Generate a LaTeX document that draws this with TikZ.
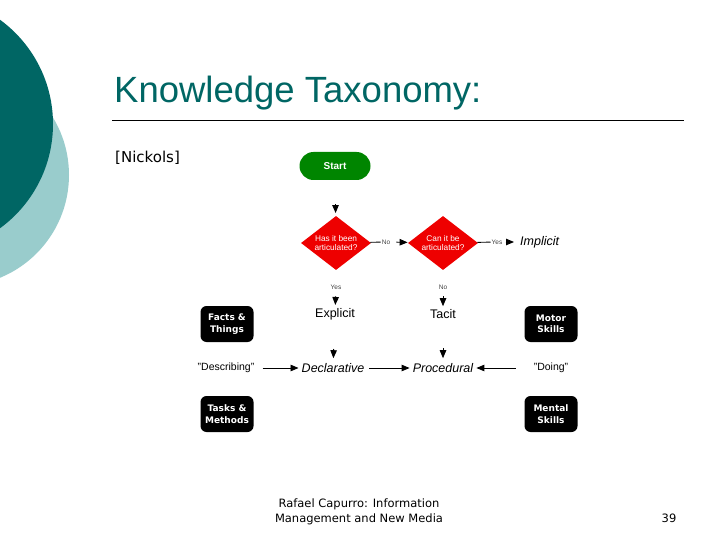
\documentclass[tikz,border=0pt]{standalone}
\usepackage{fontspec}
\setmainfont{Liberation Sans}
\newfontfamily\verd{DejaVu Sans}
\usetikzlibrary{shapes.geometric,arrows.meta}
\definecolor{teal1}{RGB}{0,102,100}
\definecolor{teal2}{RGB}{153,204,204}
\definecolor{startgreen}{RGB}{0,133,0}
\definecolor{dred}{RGB}{238,0,0}
\tikzset{
  arr/.style={-{Triangle[length=8pt,width=6.5pt]},line width=0.9pt},
  plain/.style={line width=0.9pt},
  blackbox/.style={fill=black,rounded corners=6pt,minimum width=53pt,minimum height=36pt,inner sep=0pt,text=white,font=\verd\fontsize{9}{11.5}\selectfont\bfseries,align=center},
  decision/.style={diamond,fill=dred,aspect=1.3,inner sep=0pt,minimum width=70pt,minimum height=54pt,text=white,font=\fontsize{8.3}{9.8}\selectfont,align=center},
  kind/.style={font=\fontsize{12.5}{14}\selectfont,inner sep=1pt},
  kindit/.style={font=\fontsize{12.5}{14}\selectfont\itshape,inner sep=1pt},
  quote/.style={font=\fontsize{10.5}{12}\selectfont,inner sep=1pt},
  tiny/.style={font=\fontsize{6.5}{7.5}\selectfont,text=black!75,inner sep=1pt},
}
\begin{document}
\begin{tikzpicture}[x=1pt,y=-1pt]
\useasboundingbox (0,0) rectangle (720,540);
\begin{scope}
\clip (0,0) rectangle (720,540);
\fill[teal2] (-42,175) circle (111pt);
\fill[teal1] (-76,124) circle (129pt);
\end{scope}
% title
\node[anchor=base west,inner sep=0pt,text=teal1,font=\fontsize{36.5}{40}\selectfont] (title) at (114,103) {Knowledge Taxonomy:};
\draw[line width=0.8pt] (112,120) coordinate (tl) -- (684,120) coordinate (tr);
\node[anchor=base west,inner sep=0pt,font=\verd\fontsize{15}{17}\selectfont] (src) at (115,163) {[Nickols]};
% footer
\node[align=center,inner sep=0pt,font=\verd\fontsize{11.5}{14.5}\selectfont] (foot) at (359,512) {Rafael Capurro: Information\\Management and New Media};
\node[inner sep=0pt,font=\verd\fontsize{11.5}{14}\selectfont] (page) at (669,518) {39};
% diagram
\node[fill=startgreen,rounded corners=14pt,minimum width=71pt,minimum height=28pt,inner sep=0pt,text=white,font=\fontsize{10}{11}\selectfont\bfseries] (start) at (335,166) {Start};
\node[decision] (d1) at (336,243) {Has it been\\articulated?};
\node[decision] (d2) at (443,243) {Can it be\\articulated?};
\node[tiny] (n1) at (386,242) {No};
\node[tiny] (y2) at (497,242) {Yes};
\node[kindit,anchor=west] (impl) at (519,242) {Implicit};
\node[tiny] (y1) at (336,287) {Yes};
\node[tiny] (n2) at (443,287) {No};
\node[kind] (expl) at (335,314) {Explicit};
\node[kind] (tacit) at (443,314) {Tacit};
\node[kindit] (decl) at (333,368) {Declarative};
\node[kindit] (proc) at (443,368) {Procedural};
\node[quote] (desc) at (226,368) {"Describing"};
\node[quote] (doing) at (551,368) {"Doing"};
\node[blackbox] (facts) at (227,324) {Facts \&\\Things};
\node[blackbox] (tasks) at (227,414) {Tasks \&\\Methods};
\node[blackbox] (motor) at (551,324) {Motor\\Skills};
\node[blackbox] (mental) at (551,414) {Mental\\Skills};
% connectors
\draw[arr,shorten <=24pt,shorten >=3pt] (start) -- (d1);
\draw[plain] (d1) -- (n1);
\draw[arr,shorten <=5pt,shorten >=1pt] (n1) -- (d2);
\draw[plain] (d2) -- (y2);
\draw[arr,shorten <=2pt,shorten >=5pt] (y2) -- (impl);
\draw[arr,shorten <=6pt,shorten >=2pt] (y1) -- (expl);
\draw[arr,shorten <=6pt,shorten >=2pt] (n2) -- (tacit);
\draw[arr,shorten <=28pt,shorten >=4pt] (expl) -- (decl);
\draw[arr,shorten <=28pt,shorten >=4pt] (tacit) -- (proc);
\draw[arr,shorten <=7pt,shorten >=2pt] (desc) -- (decl);
\draw[arr,shorten <=4pt,shorten >=2pt] (decl) -- (proc);
\draw[arr,shorten <=17pt,shorten >=2pt] (doing) -- (proc);
\end{tikzpicture}
\end{document}
